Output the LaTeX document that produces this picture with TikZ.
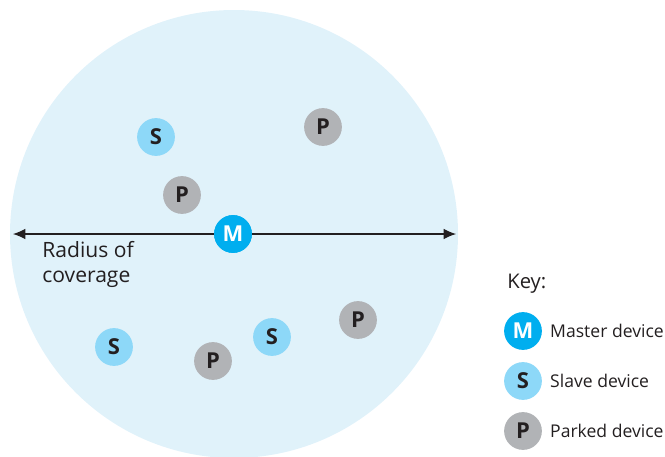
\documentclass[tikz,border=0pt]{standalone}
\usepackage{fontspec}
\setmainfont{Open Sans}
\usetikzlibrary{calc}
\usetikzlibrary{positioning}
\usetikzlibrary{arrows.meta}

\definecolor{coverblue}{HTML}{E0F2FA}
\definecolor{masterblue}{HTML}{00AEEF}
\definecolor{slaveblue}{HTML}{8DD8F8}
\definecolor{parkedgrey}{HTML}{B1B3B6}
\definecolor{inkgrey}{HTML}{231F20}

\tikzset{
    device/.style={circle, minimum size=21.5pt, inner sep=0pt, font=\bfseries\fontsize{12.5}{13}\selectfont},
    master/.style={device, fill=masterblue, text=white},
    slave/.style={device, fill=slaveblue, text=inkgrey},
    parked/.style={device, fill=parkedgrey, text=inkgrey},
    keytext/.style={anchor=west, text=inkgrey, font=\fontsize{10}{11}\selectfont}
}

\begin{document}
\begin{tikzpicture}[x=0.02cm, y=-0.02cm]
            \useasboundingbox (0,0) rectangle (665,456);
            \def\r{224}

            % Area of coverage
            \fill[coverblue] (234,234) circle (\r);

            \coordinate (left) at (13,234);
            \coordinate (right) at (456,234);
            \node[master] (m) at (233,234) {M};
            \draw[inkgrey, line width=0.6pt, -{Latex[length=7pt, width=6pt]}] (m) -- (left);
            \draw[inkgrey, line width=0.6pt, -{Latex[length=7pt, width=6pt]}] (m) -- (right);
            \node[master] at (m) {M};

            \node[anchor=north west, align=left, text=inkgrey, inner sep=0pt,
                  font=\fontsize{12}{14.5}\selectfont] (radius) at (42,241) {Radius of\\coverage};

            % Devices
            \node[slave] (s1) at (156,137) {S};
            \node[parked] (p1) at (323,127) {P};
            \node[parked] (p2) at (182,195) {P};
            \node[slave] (s2) at (114,347) {S};
            \node[parked] (p3) at (213,361) {P};
            \node[slave] (s3) at (272,337) {S};
            \node[parked] (p4) at (358,320) {P};

            % Key
            \node[anchor=west, text=inkgrey, inner sep=0pt, font=\fontsize{11.5}{13}\selectfont] (key) at (507,284) {Key:};
            \node[master] (km) at (523,331) {M};
            \node[slave] (ks) at (523,381) {S};
            \node[parked] (kp) at (523,431) {P};
            \node[keytext, right=1pt of km] {Master device};
            \node[keytext, right=1pt of ks] {Slave device};
            \node[keytext, right=1pt of kp] {Parked device};
\end{tikzpicture}
\end{document}
